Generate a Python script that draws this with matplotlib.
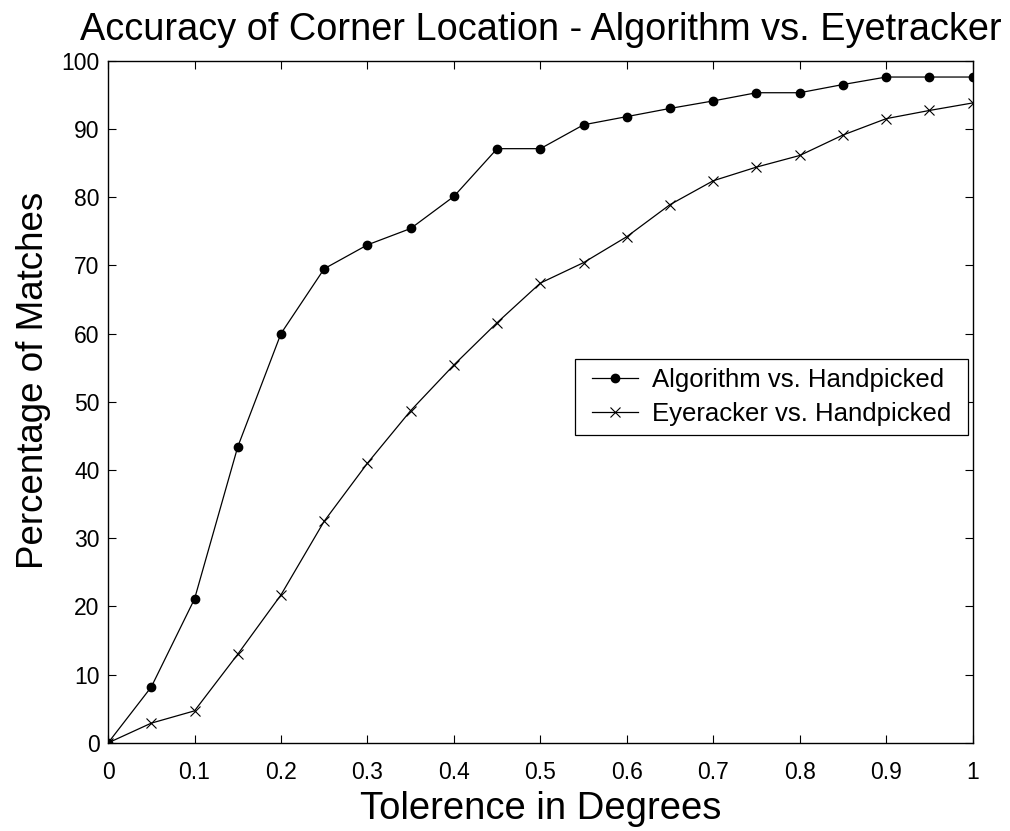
import matplotlib
matplotlib.use("Agg")
import matplotlib.pyplot as plt
from matplotlib.path import Path

tolerance = [0, 0.05, 0.1, 0.15, 0.2, 0.25, 0.3, 0.35, 0.4, 0.45, 0.5,
             0.55, 0.6, 0.65, 0.7, 0.75, 0.8, 0.85, 0.9, 0.95, 1.0]
algorithm = [0, 8.2, 21.1, 43.4, 60.0, 69.5, 73.0, 75.4, 80.1, 87.1, 87.1,
             90.6, 91.8, 93.0, 94.1, 95.3, 95.3, 96.5, 97.6, 97.6, 97.6]
eyetracker = [0, 2.9, 4.7, 13.0, 21.7, 32.5, 41.0, 48.7, 55.4, 61.6, 67.4,
              70.4, 74.2, 78.9, 82.4, 84.4, 86.1, 89.1, 91.5, 92.7, 93.8]
xticks = [0, 0.1, 0.2, 0.3, 0.4, 0.5, 0.6, 0.7, 0.8, 0.9, 1]
xticklabels = ["0", "0.1", "0.2", "0.3", "0.4", "0.5", "0.6", "0.7", "0.8", "0.9", "1"]
yticks = [0, 10, 20, 30, 40, 50, 60, 70, 80, 90, 100]

plt.rcParams['font.family'] = ['Liberation Sans', 'DejaVu Sans']

fig = plt.figure(figsize=(10.10, 8.31), dpi=100)
ax = fig.add_axes([0.107, 0.106, 0.856, 0.821])

ax.plot(tolerance, algorithm, color='black', linewidth=0.9, marker='o',
        markersize=6, label='Algorithm vs. Handpicked')
ax.plot(tolerance, eyetracker, color='black', linewidth=0.9, marker='x',
        markersize=7, markeredgewidth=0.8, label='Eyeracker vs. Handpicked')

ax.set_xlim(0, 1)
ax.set_ylim(0, 100)
ax.set_xticks(xticks)
ax.set_xticklabels(xticklabels)
ax.set_yticks(yticks)
ax.tick_params(direction='in', length=6, width=0.8, top=True, right=True,
               labelsize=16.5)
ax.tick_params(axis='x', pad=13)
ax.tick_params(axis='y', pad=6)
for s in ax.spines.values():
    s.set_linewidth(1.0)

ax.set_title('Accuracy of Corner Location - Algorithm vs. Eyetracker',
             fontsize=27.3, pad=15)
ax.set_xlabel('Tolerence in Degrees', fontsize=27.5, labelpad=5)
ax.set_ylabel('Percentage of Matches', fontsize=26.5)
ax.yaxis.set_label_coords(-0.066, 0.531)


def wide_box(x0, y0, width, height, mutation_size):
    dx = 0.3 * mutation_size
    return Path([(x0 - dx, y0), (x0 + width + dx, y0),
                 (x0 + width + dx, y0 + height), (x0 - dx, y0 + height),
                 (x0 - dx, y0)], closed=True)


leg = ax.legend(loc='upper right', bbox_to_anchor=(0.986, 0.563), fontsize=18.5,
                fancybox=False, framealpha=1, edgecolor='black',
                handlelength=1.8, borderpad=0.35, labelspacing=0.4,
                handletextpad=0.55, borderaxespad=0)
leg.get_frame().set_linewidth(0.9)
leg.get_frame().set_boxstyle(wide_box)

fig.savefig('out.png', dpi=100)
